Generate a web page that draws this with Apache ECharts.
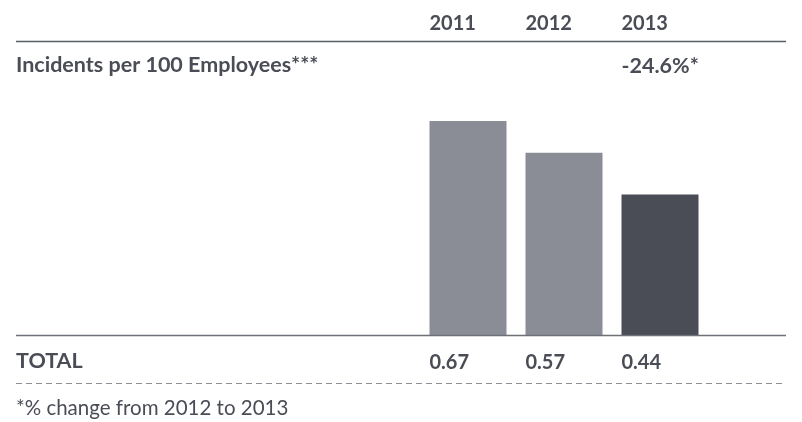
<!DOCTYPE html>
<html>
<head>
<meta charset="utf-8">
<script src="https://cdn.jsdelivr.net/npm/echarts@6/dist/echarts.min.js"></script>
<style>
  html, body { margin: 0; padding: 0; background: #ffffff; }
  #chart { width: 802px; height: 422px; }
</style>
</head>
<body>
<div id="chart"></div>
<script>
// Incidents per 100 employees, 2011–2013
const years = ['2011', '2012', '2013'];
const incidents = [0.67, 0.57, 0.44];
const changeLabels = ['', '', '-24.6%*'];
const rowTitle = 'Incidents per 100 Employees***';
const totalTitle = 'TOTAL';
const footnote = '*% change from 2012 to 2013';

const TEXT = '#4a4d56';
const LIGHT = '#8a8d95';
const DARK = '#4a4d56';
const FONT = 'Lato, "Open Sans", sans-serif';
const BAR_W = 77;
const BOLD_SIZE = 20;
const ROW_SIZE = 21.5;

const chart = echarts.init(document.getElementById('chart'), null, { renderer: 'canvas' });

// Left-aligned label inside a box as wide as the bar
function boxLabel(text) {
  return '{t|' + text + '}';
}
const richBox = (size, weight) => ({
  t: { width: BAR_W, align: 'left', fontSize: size, fontWeight: weight, color: TEXT, fontFamily: FONT }
});

chart.setOption({
  animation: false,
  grid: { left: 420, right: 94, top: 41, bottom: 87 },
  xAxis: [
    {
      type: 'category', data: years, position: 'bottom',
      axisLine: { show: false }, axisTick: { show: false },
      axisLabel: {
        margin: 18,
        formatter: (v, i) => boxLabel(incidents[i].toFixed(2)),
        rich: richBox(BOLD_SIZE, 'bold')
      }
    },
    {
      type: 'category', data: years, position: 'top',
      axisLine: { show: false }, axisTick: { show: false },
      axisLabel: {
        margin: 7,
        formatter: (v) => boxLabel(v),
        rich: richBox(BOLD_SIZE, 'bold')
      }
    },
    {
      type: 'category', data: years, position: 'top',
      axisLine: { show: false }, axisTick: { show: false },
      axisLabel: {
        inside: true, margin: 14,
        formatter: (v, i) => boxLabel(changeLabels[i]),
        rich: richBox(ROW_SIZE, 'bold')
      }
    }
  ],
  yAxis: {
    type: 'value', min: 0, max: 0.92, show: false,
    splitLine: { show: false }
  },
  series: [{
    type: 'bar',
    xAxisIndex: 0,
    barWidth: BAR_W,
    data: incidents.map((v, i) => ({
      value: v,
      itemStyle: { color: i === incidents.length - 1 ? DARK : LIGHT }
    }))
  }],
  graphic: [
    // rule under the year header
    { type: 'line', shape: { x1: 16, y1: 41.5, x2: 786, y2: 41.5 },
      style: { stroke: '#5a5d64', lineWidth: 1.5 }, z: 10 },
    // baseline under the bars
    { type: 'line', shape: { x1: 16, y1: 335.5, x2: 786, y2: 335.5 },
      style: { stroke: '#6e7178', lineWidth: 1.5 }, z: 10 },
    // dashed separator under totals
    { type: 'line', shape: { x1: 16, y1: 383.5, x2: 786, y2: 383.5 },
      style: { stroke: '#8c8f95', lineWidth: 1, lineDash: [6, 4] }, z: 10 },
    { type: 'text', left: 16, top: 54,
      style: { text: rowTitle, fontSize: ROW_SIZE, fontWeight: 'bold', fill: TEXT, fontFamily: FONT } },
    { type: 'text', left: 16, top: 350,
      style: { text: totalTitle, fontSize: ROW_SIZE, fontWeight: 'bold', fill: TEXT, fontFamily: FONT } },
    { type: 'text', left: 16, top: 398,
      style: { text: footnote, fontSize: 20.5, fontWeight: 'normal', fill: TEXT, fontFamily: FONT } }
  ]
});
</script>
</body>
</html>
